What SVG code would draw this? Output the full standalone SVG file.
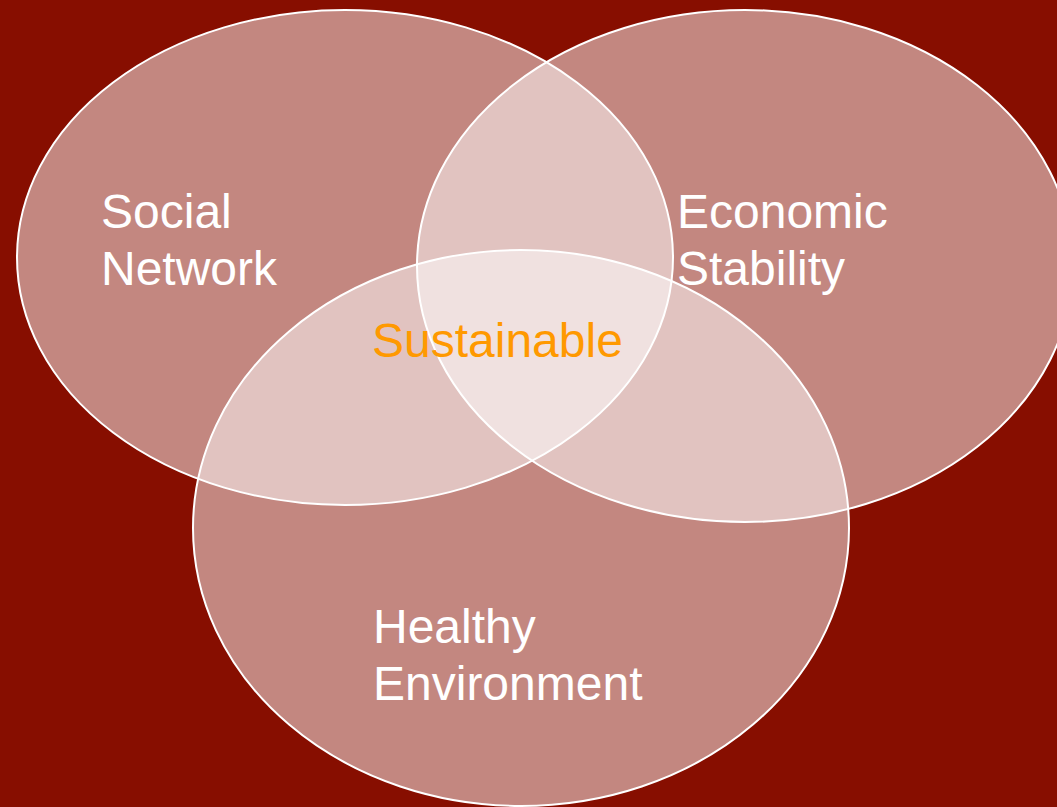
<svg xmlns="http://www.w3.org/2000/svg" width="1057" height="807" viewBox="0 0 1057 807">
<style>
.set{fill:#ffffff;fill-opacity:0.5;stroke:#ffffff;stroke-width:2}
.lbl{font-family:"Liberation Sans",Arial,sans-serif;font-size:48px;fill:#ffffff}
.core{font-family:"Liberation Sans",Arial,sans-serif;font-size:48px;fill:#FF9900}
</style>
<rect x="0" y="0" width="1057" height="807" fill="#870E00"/>
<g id="social-network">
<ellipse class="set" cx="345" cy="257.5" rx="328" ry="247.5"/>
<text class="lbl" x="101" y="228">Social</text>
<text class="lbl" x="101" y="285">Network</text>
</g>
<g id="economic-stability">
<ellipse class="set" cx="745" cy="266" rx="328" ry="256"/>
<text class="lbl" x="677" y="228">Economic</text>
<text class="lbl" x="677" y="285">Stability</text>
</g>
<g id="healthy-environment">
<ellipse class="set" cx="521" cy="528" rx="328" ry="278"/>
<text class="lbl" x="373" y="643">Healthy</text>
<text class="lbl" x="373" y="700">Environment</text>
</g>
<g id="sustainable">
<text class="core" x="372" y="357">Sustainable</text>
</g>
<g id="connectors"/>
</svg>
